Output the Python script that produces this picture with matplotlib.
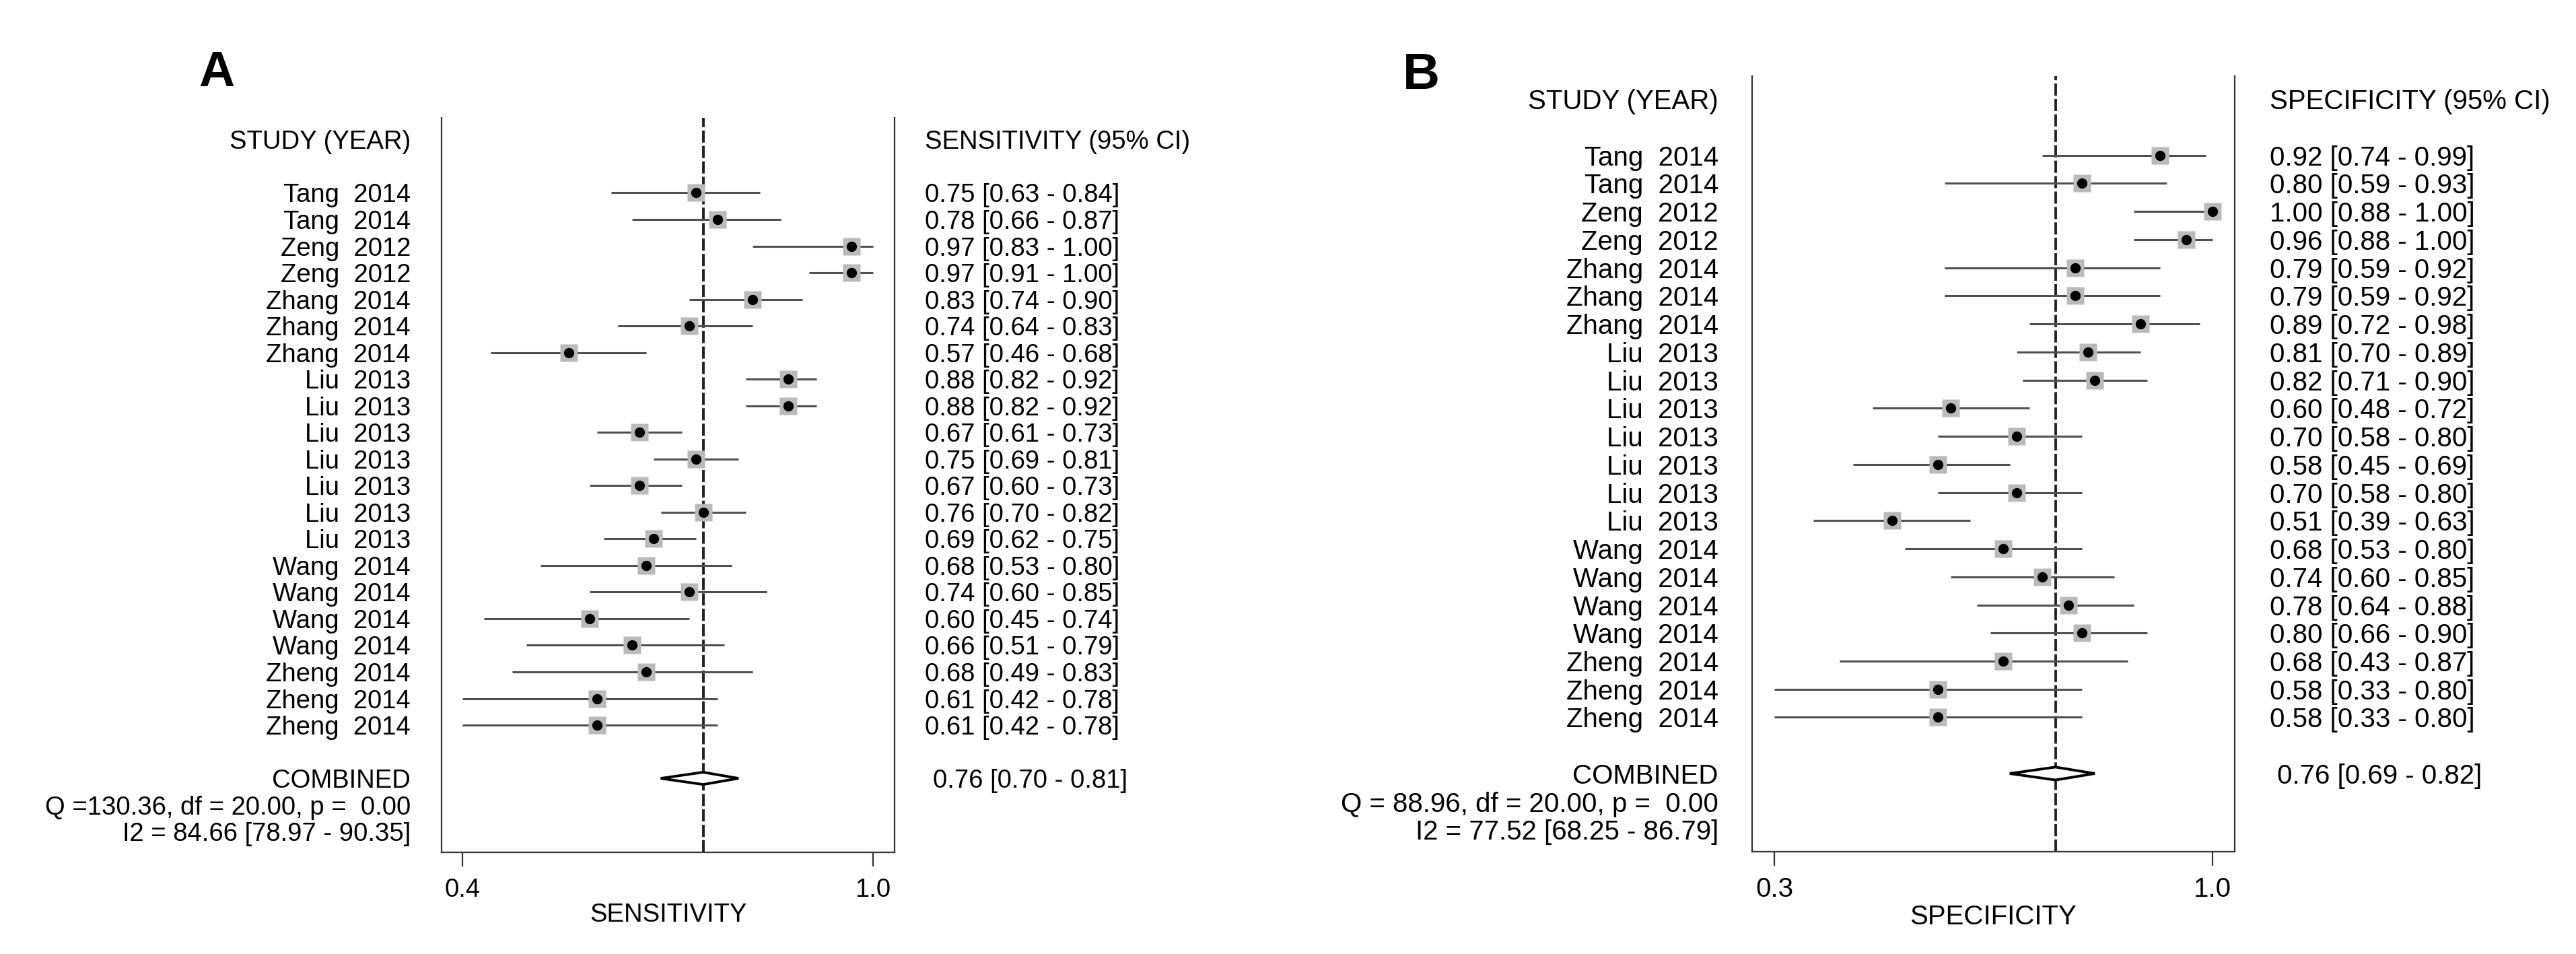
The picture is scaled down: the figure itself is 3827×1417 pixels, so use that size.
import numpy as np
import matplotlib
matplotlib.use('Agg')
from matplotlib import pyplot as plt
from matplotlib.patches import Polygon

plt.rcParams['font.family'] = ['Liberation Sans', 'DejaVu Sans']
plt.rcParams['lines.scale_dashes'] = False

# study labels (same for both panels)
studies = ['Tang  2014', 'Tang  2014', 'Zeng  2012', 'Zeng  2012',
           'Zhang  2014', 'Zhang  2014', 'Zhang  2014',
           'Liu  2013', 'Liu  2013', 'Liu  2013', 'Liu  2013',
           'Liu  2013', 'Liu  2013', 'Liu  2013',
           'Wang  2014', 'Wang  2014', 'Wang  2014', 'Wang  2014',
           'Zheng  2014', 'Zheng  2014', 'Zheng  2014']

# panel A - sensitivity
sensEst = [0.75, 0.78, 0.97, 0.97, 0.83, 0.74, 0.57, 0.88, 0.88, 0.67, 0.75,
           0.67, 0.76, 0.69, 0.68, 0.74, 0.60, 0.66, 0.68, 0.61, 0.61]
sensLo = [0.63, 0.66, 0.83, 0.91, 0.74, 0.64, 0.46, 0.82, 0.82, 0.61, 0.69,
          0.60, 0.70, 0.62, 0.53, 0.60, 0.45, 0.51, 0.49, 0.42, 0.42]
sensHi = [0.84, 0.87, 1.00, 1.00, 0.90, 0.83, 0.68, 0.92, 0.92, 0.73, 0.81,
          0.73, 0.82, 0.75, 0.80, 0.85, 0.74, 0.79, 0.83, 0.78, 0.78]
sensComb = (0.76, 0.70, 0.81)
sensQ = 'Q =130.36, df = 20.00, p =  0.00'
sensI2 = 'I2 = 84.66 [78.97 - 90.35]'

# panel B - specificity
specEst = [0.92, 0.80, 1.00, 0.96, 0.79, 0.79, 0.89, 0.81, 0.82, 0.60, 0.70,
           0.58, 0.70, 0.51, 0.68, 0.74, 0.78, 0.80, 0.68, 0.58, 0.58]
specLo = [0.74, 0.59, 0.88, 0.88, 0.59, 0.59, 0.72, 0.70, 0.71, 0.48, 0.58,
          0.45, 0.58, 0.39, 0.53, 0.60, 0.64, 0.66, 0.43, 0.33, 0.33]
specHi = [0.99, 0.93, 1.00, 1.00, 0.92, 0.92, 0.98, 0.89, 0.90, 0.72, 0.80,
          0.69, 0.80, 0.63, 0.80, 0.85, 0.88, 0.90, 0.87, 0.80, 0.80]
specComb = (0.76, 0.69, 0.82)
specQ = 'Q = 88.96, df = 20.00, p =  0.00'
specI2 = 'I2 = 77.52 [68.25 - 86.79]'


def forestPanel(ax, est, lo, hi, comb, qText, i2Text, pad, xlabel, ciHeader,
                fs=26.5, labX=-0.068, ciX=1.067, combX=1.084, xlabY=-0.082):
    """ draws one Stata-style forest panel

    ticks sit at the smallest lower bound and the largest upper bound, labelled with 1 decimal
    (like midas does); pad is the extra room left/right of those ticks in data units
    """
    rows = np.arange(len(est))
    trans = ax.get_yaxis_transform()
    lineCol = '#505050'
    # CI whiskers, grey boxes and black points
    ax.hlines(rows, lo, hi, color=lineCol, lw=2.2, zorder=2)
    ax.plot(est, rows, 's', ms=18.5, color='#bababa', mec='none', zorder=3)
    ax.plot(est, rows, 'o', ms=11, color='black', mec='none', zorder=4)
    # summary line and diamond
    yC = len(est) + 1
    ax.axvline(comb[0], color='#222222', lw=2.8, dashes=(13, 3.5), zorder=1)
    h = 0.23
    diam = Polygon([(comb[1], yC), (comb[0], yC - h), (comb[2], yC), (comb[0], yC + h)],
                   closed=True, facecolor='white', edgecolor='black', lw=2.8, zorder=5)
    ax.add_patch(diam)

    # left column text
    ax.text(labX, -2, 'STUDY (YEAR)', transform=trans, ha='right', va='center_baseline', fontsize=fs)
    for ii, lab in enumerate(studies):
        ax.text(labX, ii, lab, transform=trans, ha='right', va='center_baseline', fontsize=fs)
    ax.text(labX, yC, 'COMBINED', transform=trans, ha='right', va='center_baseline', fontsize=fs)
    ax.text(labX, yC + 1, qText, transform=trans, ha='right', va='center_baseline', fontsize=fs)
    ax.text(labX, yC + 2, i2Text, transform=trans, ha='right', va='center_baseline', fontsize=fs)

    # right column text
    ax.text(ciX, -2, ciHeader, transform=trans, ha='left', va='center_baseline', fontsize=fs)
    for ii in range(len(est)):
        ax.text(ciX, ii, '{:.2f} [{:.2f} - {:.2f}]'.format(est[ii], lo[ii], hi[ii]),
                transform=trans, ha='left', va='center_baseline', fontsize=fs)
    ax.text(combX, yC, '{:.2f} [{:.2f} - {:.2f}]'.format(*comb), transform=trans,
            ha='left', va='center_baseline', fontsize=fs)

    ticks = [min(lo), max(hi)]
    ax.set_xlim(ticks[0] - pad[0], ticks[1] + pad[1])
    ax.set_ylim(24.78, -2.82)
    ax.set_yticks([])
    ax.set_xticks(ticks)
    ax.set_xticklabels(['{:.1f}'.format(t) for t in ticks], fontsize=fs)
    ax.tick_params(axis='x', direction='out', length=15, width=1.6, color='#333333', pad=12)
    ax.spines['top'].set_visible(False)
    for side in ['left', 'right', 'bottom']:
        ax.spines[side].set_linewidth(1.6)
        ax.spines[side].set_color('#333333')
    ax.text(0.5, xlabY, xlabel, transform=ax.transAxes, ha='center', va='center_baseline', fontsize=fs)


W, H = 3827, 1417
fig = plt.figure(figsize=(W / 100, H / 100), dpi=100)

axA = fig.add_axes([656 / W, 1 - 1266 / H, 673 / W, 1091 / H])
forestPanel(axA, sensEst, sensLo, sensHi, sensComb, sensQ, sensI2, (0.0295, 0.0304),
            'SENSITIVITY', 'SENSITIVITY (95% CI)', fs=27.5, labX=-0.068, ciX=1.067, combX=1.084,
            xlabY=-(1355 - 1266) / 1091)

axB = fig.add_axes([2603 / W, 1 - 1265 / H, 717 / W, 1152 / H])
forestPanel(axB, specEst, specLo, specHi, specComb, specQ, specI2, (0.034, 0.034),
            'SPECIFICITY', 'SPECIFICITY (95% CI)', fs=29, labX=-0.070, ciX=1.0726, combX=1.088,
            xlabY=-(1358 - 1265) / 1152)

fig.text(322 / W, 1 - 108 / H, 'A', fontsize=53, fontweight='bold', ha='center', va='center')
fig.text(2111 / W, 1 - 112 / H, 'B', fontsize=55, fontweight='bold', ha='center', va='center')

fig.savefig('out.png', dpi=100, facecolor='white')
